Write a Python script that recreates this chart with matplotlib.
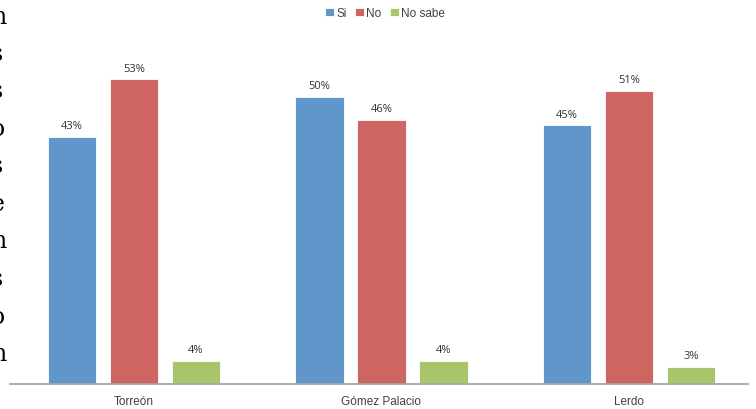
import matplotlib.pyplot as plt
import numpy as np

# data
municipios = ["Torreón", "Gómez Palacio", "Lerdo"]
series = ["Si", "No", "No sabe"]
si = [43, 50, 45]
no = [53, 46, 51]
no_sabe = [4, 4, 3]
colores = ["#6096C9", "#CE6560", "#A9C56A"]

# clipped letters on the left edge of the original image
letras_borde = ["n", "s", "s", "o", "s", "e", "n", "s", "o", "n"]

fig = plt.figure(figsize=(7.56, 4.10), dpi=100)
ax = fig.add_axes([10 / 756, 25 / 410, 738 / 756, 345 / 410])

x = np.arange(len(municipios))
ancho = 0.195
paso = 0.25
for i, (nombre, valores) in enumerate(zip(series, [si, no, no_sabe])):
    pos = x + (i - 1) * paso
    barras = ax.bar(pos, valores, ancho, color=colores[i], edgecolor="white",
                    linewidth=0.6, label=nombre, zorder=2)
    for b, v in zip(barras, valores):
        ax.annotate(f"{v}%", (b.get_x() + b.get_width() / 2, v),
                    xytext=(0, 4), textcoords="offset points",
                    ha="center", va="bottom", fontsize=8, color="#333333",
                    family="Open Sans")

ax.set_xlim(-0.5, 2.48)
ax.set_ylim(0, 60)
ax.set_yticks([])
ax.set_xticks(x)
ax.set_xticklabels(municipios, fontsize=8.5, color="#404040", family="Liberation Sans")
ax.tick_params(axis="x", length=0, pad=8)
for lado in ["top", "right", "left"]:
    ax.spines[lado].set_visible(False)
ax.spines["bottom"].set_color("#A6A6A6")
ax.spines["bottom"].set_linewidth(1.3)

leg = fig.legend(loc="center", bbox_to_anchor=(385 / 756, 1 - 14 / 410), ncol=3,
                 frameon=False, handlelength=0.75, handleheight=0.75,
                 handletextpad=0.2, columnspacing=0.7,
                 prop={"family": "Liberation Sans", "size": 8.5})
for t in leg.get_texts():
    t.set_color("#404040")

# partially visible characters cut by the left border
for k, letra in enumerate(letras_borde):
    yk = 1 - (17 + k * 37.5) / 410
    fig.text(-9 / 756, yk, letra, fontsize=17, family="DejaVu Serif",
             ha="left", va="center", color="black")

fig.savefig("out.png", dpi=100)
